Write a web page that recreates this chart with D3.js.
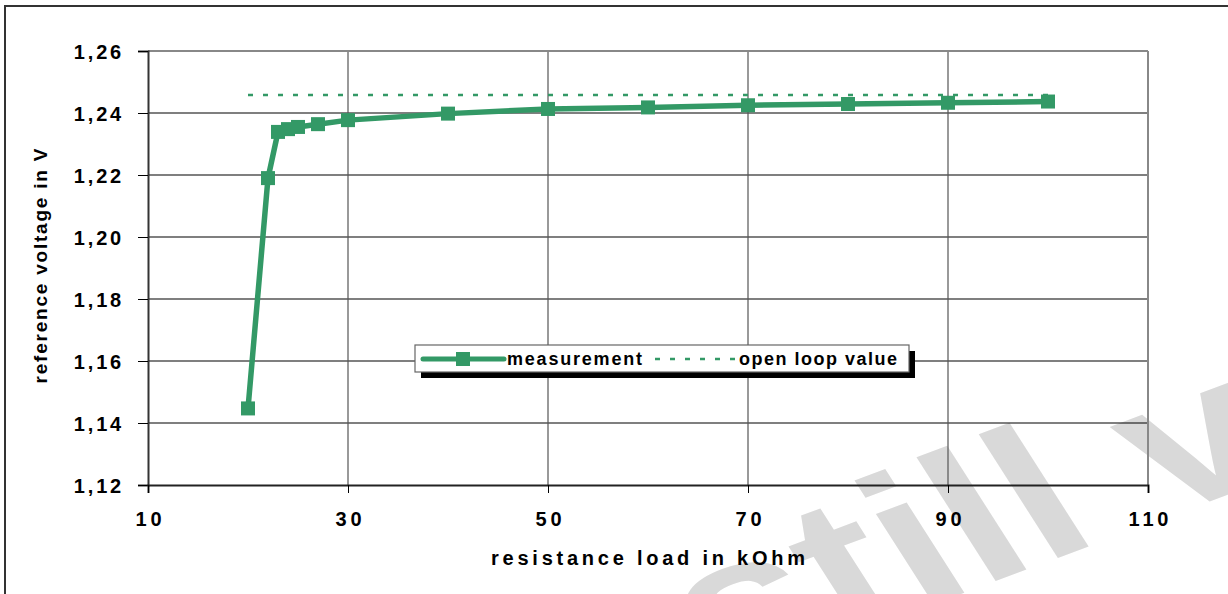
<!DOCTYPE html>
<html lang="en">
<head>
    <meta charset="UTF-8">
    <title>reference voltage vs load</title>
    <style>
        body { margin: 0; background: white; }
        svg { display: block; font-family: Arial, "Liberation Sans", sans-serif; }
        .tick-label { font-weight: bold; font-size: 20px; fill: #000; }
    </style>
</head>
<body>
    <svg width="1228" height="594" id="chart"></svg>

    <script src="https://d3js.org/d3.v7.min.js"></script>
    <script>
        // data
        const resistance = [20, 22, 23, 24, 25, 27, 30, 40, 50, 60, 70, 80, 90, 100];
        const voltage = [1.1447, 1.2190, 1.2339, 1.2348, 1.2355, 1.2364, 1.2377, 1.2398, 1.2413, 1.2418, 1.2425, 1.2429, 1.2433, 1.2437];
        const openLoopRange = [20, 100];
        const openLoopValue = 1.2458;
        const xTicks = [10, 30, 50, 70, 90, 110];
        const yTicks = [1.12, 1.14, 1.16, 1.18, 1.20, 1.22, 1.24, 1.26];
        const legendLabels = ["measurement", "open loop value"];

        const green = "#339966";
        const svg = d3.select("#chart");

        // watermark behind everything (page is stretched a bit, hence the scale)
        svg.append("text")
            .attr("transform", "translate(719,684) scale(1.31,1) rotate(-26)")
            .attr("font-size", 190)
            .attr("font-weight", "bold")
            .attr("fill", "#d9d9d9")
            .text("still valid");

        // outer frame
        svg.append("rect")
            .attr("x", 5).attr("y", 6)
            .attr("width", 1300).attr("height", 700)
            .attr("fill", "none")
            .attr("stroke", "#333")
            .attr("stroke-width", 2);

        const x = d3.scaleLinear().domain([10, 110]).range([148, 1148]);
        const y = d3.scaleLinear().domain([1.12, 1.26]).range([485, 51]);

        // horizontal gridlines
        svg.append("g")
            .selectAll("line")
            .data(yTicks.slice(1, -1))
            .enter()
            .append("line")
            .attr("x1", x(10)).attr("x2", x(110))
            .attr("y1", d => y(d)).attr("y2", d => y(d))
            .attr("stroke", "#000")
            .attr("stroke-width", 1.2);

        // vertical gridlines
        svg.append("g")
            .selectAll("line")
            .data(xTicks.slice(1, -1))
            .enter()
            .append("line")
            .attr("x1", d => x(d)).attr("x2", d => x(d))
            .attr("y1", y(1.26)).attr("y2", y(1.12))
            .attr("stroke", "#555")
            .attr("stroke-width", 1.2);

        // plot border: top and right grey, left and bottom dark
        svg.append("line")
            .attr("x1", x(10)).attr("x2", x(110))
            .attr("y1", y(1.26)).attr("y2", y(1.26))
            .attr("stroke", "#888").attr("stroke-width", 2);
        svg.append("line")
            .attr("x1", x(110)).attr("x2", x(110))
            .attr("y1", y(1.26)).attr("y2", y(1.12))
            .attr("stroke", "#888").attr("stroke-width", 2);

        // y axis
        const yAxis = d3.axisLeft(y)
            .tickValues(yTicks)
            .tickSize(10)
            .tickPadding(14)
            .tickFormat(d => d3.format(".2f")(d).replace(".", ","));
        const gy = svg.append("g")
            .attr("transform", `translate(${x(10)},0)`)
            .call(yAxis);
        gy.select(".domain").attr("stroke", "#333").attr("stroke-width", 2);
        gy.selectAll(".tick line").attr("stroke", "#000");
        gy.selectAll(".tick text")
            .attr("class", "tick-label")
            .attr("font-family", null)
            .style("letter-spacing", "2.8px")
            .attr("dy", "0.36em");

        // x axis
        const xAxis = d3.axisBottom(x)
            .tickValues(xTicks)
            .tickSize(8)
            .tickPadding(19)
            .tickFormat(d3.format("d"));
        const gx = svg.append("g")
            .attr("transform", `translate(0,${y(1.12)})`)
            .call(xAxis);
        gx.select(".domain").attr("stroke", "#222").attr("stroke-width", 2);
        gx.selectAll(".tick line").attr("stroke", "#000");
        gx.selectAll(".tick text")
            .attr("class", "tick-label")
            .attr("font-family", null)
            .style("letter-spacing", "3.8px")
            .attr("dx", "1.9px");

        // axis titles
        svg.append("text")
            .attr("x", 648).attr("y", 565)
            .attr("text-anchor", "middle")
            .attr("font-size", 20).attr("font-weight", "bold")
            .attr("textLength", 314).attr("lengthAdjust", "spacing")
            .text("resistance load in kOhm");

        svg.append("text")
            .attr("transform", "translate(47,266) rotate(-90)")
            .attr("text-anchor", "middle")
            .attr("font-size", 19).attr("font-weight", "bold")
            .attr("textLength", 235).attr("lengthAdjust", "spacing")
            .text("reference voltage in V");

        // open loop value
        svg.append("line")
            .attr("x1", x(openLoopRange[0])).attr("x2", x(openLoopRange[1]))
            .attr("y1", y(openLoopValue)).attr("y2", y(openLoopValue))
            .attr("stroke", green)
            .attr("stroke-width", 2.5)
            .attr("stroke-dasharray", "5,10");

        // measurement
        const pts = resistance.map((r, i) => [r, voltage[i]]);
        const line = d3.line().x(d => x(d[0])).y(d => y(d[1]));
        svg.append("path")
            .attr("d", line(pts))
            .attr("fill", "none")
            .attr("stroke", green)
            .attr("stroke-width", 5.5)
            .attr("stroke-linejoin", "round");

        svg.append("g")
            .selectAll("rect")
            .data(pts)
            .enter()
            .append("rect")
            .attr("x", d => x(d[0]) - 7)
            .attr("y", d => y(d[1]) - 7)
            .attr("width", 14)
            .attr("height", 14)
            .attr("fill", green);

        // legend with shadow
        const legend = svg.append("g");
        legend.append("rect")
            .attr("x", 421).attr("y", 351)
            .attr("width", 494).attr("height", 27)
            .attr("fill", "#000");
        legend.append("rect")
            .attr("x", 415).attr("y", 345)
            .attr("width", 494).attr("height", 27)
            .attr("fill", "#fff")
            .attr("stroke", "#666")
            .attr("stroke-width", 1.2);
        legend.append("line")
            .attr("x1", 423).attr("x2", 504)
            .attr("y1", 359).attr("y2", 359)
            .attr("stroke", green).attr("stroke-width", 5)
            .attr("stroke-linecap", "round");
        legend.append("rect")
            .attr("x", 456).attr("y", 352)
            .attr("width", 14).attr("height", 14)
            .attr("fill", green);
        legend.append("text")
            .attr("x", 507).attr("y", 365)
            .attr("font-size", 18).attr("font-weight", "bold")
            .attr("textLength", 135).attr("lengthAdjust", "spacing")
            .text(legendLabels[0]);
        legend.append("line")
            .attr("x1", 655).attr("x2", 736)
            .attr("y1", 359).attr("y2", 359)
            .attr("stroke", green).attr("stroke-width", 2.5)
            .attr("stroke-dasharray", "5,10");
        legend.append("text")
            .attr("x", 739).attr("y", 365)
            .attr("font-size", 18).attr("font-weight", "bold")
            .attr("textLength", 158).attr("lengthAdjust", "spacing")
            .text(legendLabels[1]);
    </script>
</body>
</html>
